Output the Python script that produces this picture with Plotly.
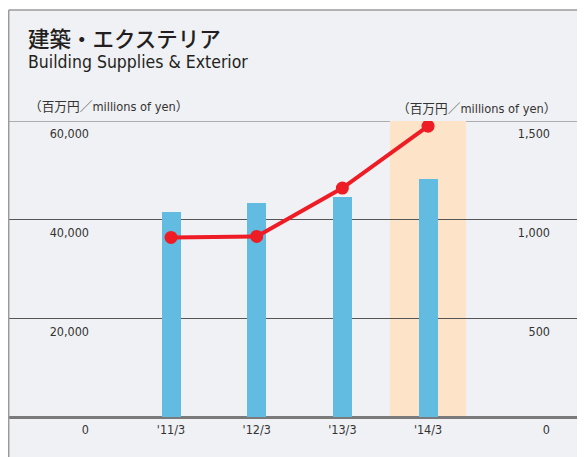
import plotly.graph_objects as go

categories = ["'11/3", "'12/3", "'13/3", "'14/3"]
sales = [41500, 43300, 44500, 48300]          # 百万円 (bars, left axis)
profit = [910, 915, 1160, 1474]               # 百万円 (line, right axis)
left_ticks = [0, 20000, 40000, 60000]
left_labels = ["0", "20,000", "40,000", "60,000"]
right_ticks = [0, 500, 1000, 1500]
right_labels = ["0", "500", "1,000", "1,500"]
highlight_category = "'14/3"

# page has an 8px body margin: figure is placed at (8, 8) in the window
OX, OY = 8, 8
W, H = 577, 449
L, R, T, B = 0, 0, 113, 40
PW, PH = W - L - R, H - T - B

def px(xw):
    return (xw - OX - L) / PW

def py(yw):
    return (H - B + OY - yw) / PH

NARROW = "DejaVu Sans Condensed, Noto Sans CJK JP, sans-serif"
JP = "Noto Sans CJK JP, sans-serif"

fig = go.Figure()
fig.add_trace(go.Bar(
    x=categories, y=sales, marker=dict(color="#62bce1", line=dict(width=0)),
    width=0.222, yaxis="y", showlegend=False, hoverinfo="skip",
))
fig.add_trace(go.Scatter(
    x=categories, y=profit, yaxis="y2", mode="lines+markers",
    line=dict(color="#ee1c25", width=4),
    marker=dict(color="#ee1c25", size=13),
    showlegend=False, hoverinfo="skip",
))

hi = categories.index(highlight_category)
shapes = [
    dict(type="rect", xref="paper", yref="paper", x0=0, x1=1.02, y0=py(470), y1=py(10),
         fillcolor="#f0f1f4", line=dict(width=0), layer="below"),
    dict(type="rect", xref="x", yref="y", x0=hi - 0.444, x1=hi + 0.443, y0=0, y1=60000,
         fillcolor="#fde4c9", line=dict(width=0), layer="below"),
    dict(type="line", xref="paper", yref="paper", x0=px(8.7), x1=px(8.7), y0=py(470), y1=py(10),
         line=dict(color="#9a9a9a", width=1.5)),
    dict(type="line", xref="paper", yref="paper", x0=px(8.7), x1=1.02, y0=py(10), y1=py(10),
         line=dict(color="#9a9a9a", width=1.5)),
    # top grid line (60,000 / 1,500)
    dict(type="line", xref="paper", yref="y", x0=0, x1=1.02, y0=60000, y1=60000,
         line=dict(color="#6a6a6a", width=1.2), layer="below"),
]

annotations = [
    dict(text="建築・エクステリア", x=px(26), y=py(37.5), xref="paper", yref="paper",
         xanchor="left", yanchor="middle", showarrow=False,
         font=dict(family=JP, size=21.5, color="#231f20", weight=500)),
    dict(text="Building Supplies & Exterior", x=px(26), y=py(62), xref="paper", yref="paper",
         xanchor="left", yanchor="middle", showarrow=False,
         font=dict(family=NARROW, size=17.5, color="#231f20")),
    dict(text="（百万円／millions of yen）",
         x=px(27), y=py(107), xref="paper", yref="paper",
         xanchor="left", yanchor="middle", showarrow=False,
         font=dict(family=NARROW, size=12.7, color="#333333")),
    dict(text="（百万円／millions of yen）",
         x=px(558), y=py(108), xref="paper", yref="paper",
         xanchor="right", yanchor="middle", showarrow=False,
         font=dict(family=NARROW, size=12.7, color="#333333")),
]

tickfont = dict(family=NARROW, size=12.5, color="#333333")

fig.update_layout(
    width=W, height=H,
    margin=dict(l=L, r=R, t=T, b=B, pad=0),
    paper_bgcolor="white", plot_bgcolor="rgba(0,0,0,0)",
    shapes=shapes, annotations=annotations,
    xaxis=dict(type="category", categoryarray=categories, range=[-1.903, 4.832],
               showgrid=False, zeroline=False, showline=False, ticks="",
               tickfont=tickfont, ticklabelstandoff=3),
    yaxis=dict(range=[0, 60000], tickvals=left_ticks, ticktext=left_labels,
               anchor="free", position=px(89), side="left",
               showgrid=True, gridcolor="#555555", gridwidth=1,
               zeroline=True, zerolinecolor="#7a7a7a", zerolinewidth=2.5,
               showline=False, ticks="", tickfont=tickfont,
               ticklabelshift=13, ticklabelstandoff=0),
    yaxis2=dict(range=[0, 1500], tickvals=right_ticks, ticktext=right_labels,
                overlaying="y", anchor="free", position=px(550), side="left",
                showgrid=False, zeroline=False, showline=False, ticks="",
                tickfont=tickfont, ticklabelshift=13, ticklabelstandoff=0),
    bargap=0,
)

fig.write_html("out.html")
